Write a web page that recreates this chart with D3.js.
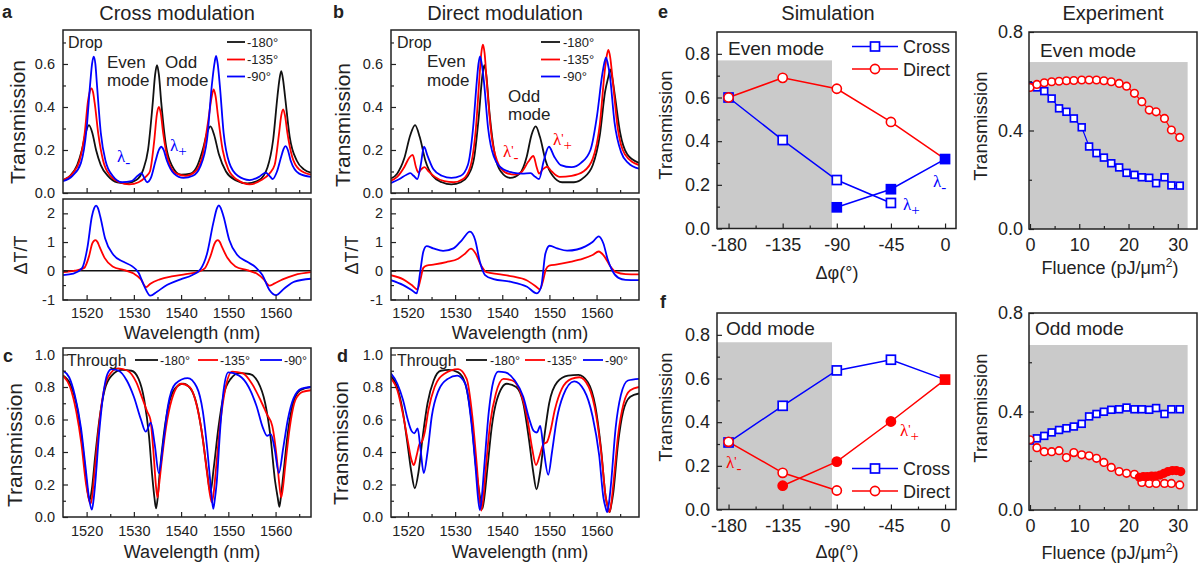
<!DOCTYPE html>
<html>
<head>
<meta charset="utf-8">
<script src="https://cdn.jsdelivr.net/npm/d3@7"></script>
<style>
  body { margin: 0; background: #fff; }
  svg { font-family: "Liberation Sans", Arial, sans-serif; }
</style>
</head>
<body>
<div id="fig"></div>
<script>
// ---------- spectra: [wavelength nm, value] ----------
// a: drop port, cross modulation
const dropCross180 = [[1515,0.06],[1516.5,0.08],[1518,0.13],[1519,0.2],[1519.8,0.28],[1520.5,0.316],[1521.2,0.28],[1522,0.2],[1523,0.13],[1524.5,0.08],[1526.5,0.05],[1528.5,0.045],[1530.5,0.06],[1532,0.11],[1533,0.2],[1534,0.42],[1534.5,0.55],[1534.9,0.595],[1535.3,0.55],[1535.8,0.42],[1536.8,0.22],[1538,0.13],[1540,0.085],[1542,0.09],[1543.5,0.13],[1544.7,0.21],[1545.5,0.28],[1546.2,0.31],[1547,0.27],[1548,0.18],[1549.5,0.1],[1551.5,0.06],[1554,0.045],[1556.5,0.06],[1558.3,0.12],[1559.5,0.25],[1560.4,0.45],[1560.8,0.525],[1561.2,0.567],[1561.6,0.525],[1562,0.45],[1563,0.26],[1564.5,0.15],[1566,0.11],[1567.5,0.095]];
const dropCross135 = [[1515,0.06],[1517,0.09],[1518.5,0.15],[1519.6,0.28],[1520.3,0.43],[1520.65,0.47],[1521,0.487],[1521.35,0.47],[1521.7,0.42],[1522.5,0.27],[1523.5,0.15],[1525,0.08],[1527,0.05],[1529,0.04],[1531,0.05],[1532.5,0.075],[1533.4,0.1],[1534.3,0.24],[1534.9,0.37],[1535.3,0.4],[1535.7,0.37],[1536.2,0.28],[1537.3,0.15],[1539,0.09],[1541,0.08],[1543,0.1],[1544.5,0.17],[1545.7,0.33],[1546.5,0.45],[1546.9,0.482],[1547.3,0.45],[1547.8,0.36],[1548.8,0.2],[1550,0.11],[1552,0.06],[1554.5,0.04],[1557,0.06],[1558.7,0.09],[1559.8,0.13],[1560.7,0.27],[1561.2,0.36],[1561.6,0.389],[1562,0.36],[1562.5,0.28],[1563.5,0.17],[1565,0.11],[1567.5,0.085]];
const dropCross90 = [[1515,0.055],[1517,0.08],[1518.8,0.14],[1520,0.3],[1520.8,0.52],[1521.15,0.6],[1521.5,0.634],[1521.85,0.6],[1522.2,0.5],[1523,0.28],[1524,0.15],[1525.5,0.08],[1527.5,0.05],[1529.5,0.055],[1530.8,0.08],[1531.6,0.092],[1532.2,0.07],[1532.8,0.05],[1533.6,0.07],[1534.6,0.15],[1535.3,0.2],[1535.8,0.215],[1536.3,0.2],[1537,0.15],[1538.5,0.09],[1540.5,0.07],[1542.5,0.08],[1544,0.12],[1545.5,0.25],[1546.5,0.5],[1547.05,0.6],[1547.4,0.637],[1547.75,0.6],[1548.2,0.5],[1549,0.28],[1550.2,0.14],[1552,0.08],[1554.5,0.06],[1556.5,0.075],[1557.9,0.095],[1558.7,0.08],[1559.4,0.065],[1560.3,0.1],[1561.2,0.17],[1561.7,0.205],[1562.1,0.218],[1562.6,0.2],[1563.2,0.15],[1565,0.09],[1567.5,0.075]];
const dtCross135 = [[1515,-0.05],[1517.5,0],[1519.5,0.1],[1520.5,0.5],[1521.2,0.95],[1521.5,1.03],[1521.9,1.07],[1522.3,1.0],[1522.7,0.85],[1523.8,0.45],[1525.5,0.15],[1528,0.02],[1530,-0.1],[1531.5,-0.3],[1532.6,-0.57],[1533.5,-0.45],[1535.5,-0.3],[1538,-0.2],[1541,-0.12],[1543.5,-0.04],[1545,0.08],[1546.2,0.5],[1547.1,0.95],[1547.4,1.03],[1547.8,1.07],[1548.2,1.0],[1548.6,0.85],[1549.8,0.45],[1551.5,0.15],[1554,0.02],[1556,-0.1],[1557.5,-0.3],[1558.7,-0.52],[1559.7,-0.45],[1561.5,-0.3],[1564,-0.15],[1567.5,-0.05]];
const dtCross90 = [[1515,-0.15],[1517.2,-0.1],[1519,0.08],[1520.2,0.84],[1521.1,1.88],[1521.6,2.18],[1522,2.27],[1522.4,2.18],[1522.9,1.88],[1523.9,1.13],[1525.7,0.55],[1527.8,0.31],[1529.6,0.16],[1531,-0.07],[1532.1,-0.5],[1533.5,-0.87],[1534.9,-0.73],[1537,-0.5],[1539.9,-0.3],[1542.4,-0.15],[1544.1,0.05],[1545.5,0.6],[1546.8,1.65],[1547.6,2.18],[1548,2.28],[1548.4,2.18],[1549,1.88],[1550.2,1.07],[1551.9,0.55],[1554,0.31],[1555.8,0.12],[1557.2,-0.15],[1558.7,-0.67],[1560.1,-0.85],[1561.9,-0.61],[1564,-0.38],[1567.5,-0.28]];

// b: drop port, direct modulation
const dropDirect180 = [[1516.2,0.065],[1517.7,0.09],[1519.2,0.16],[1520.5,0.27],[1521.5,0.316],[1522.5,0.26],[1523.7,0.15],[1525.2,0.08],[1527.2,0.05],[1529.2,0.04],[1531.2,0.05],[1532.7,0.08],[1534,0.16],[1535,0.35],[1535.8,0.55],[1536.2,0.595],[1536.6,0.55],[1537.3,0.37],[1538.4,0.18],[1539.7,0.1],[1541.7,0.07],[1543.7,0.09],[1545.2,0.17],[1546.2,0.27],[1547.1,0.31],[1548,0.26],[1549.2,0.15],[1550.7,0.08],[1552.7,0.05],[1555.2,0.05],[1557.2,0.07],[1559.2,0.13],[1560.7,0.27],[1561.8,0.47],[1562.5,0.54],[1562.9,0.575],[1563.3,0.54],[1563.9,0.45],[1565,0.28],[1566.5,0.18],[1569,0.14]];
const dropDirect135 = [[1516.2,0.055],[1517.7,0.075],[1519.2,0.12],[1520.3,0.165],[1521,0.177],[1521.7,0.12],[1522.2,0.095],[1522.8,0.11],[1523.5,0.12],[1524.4,0.1],[1525.7,0.075],[1527.7,0.055],[1529.7,0.05],[1531.7,0.065],[1533.2,0.12],[1534.4,0.3],[1535.2,0.55],[1535.55,0.65],[1535.9,0.69],[1536.25,0.65],[1536.7,0.52],[1537.7,0.27],[1538.9,0.15],[1540.7,0.095],[1542.7,0.085],[1544.2,0.1],[1545.5,0.145],[1546.6,0.172],[1547.3,0.12],[1547.8,0.09],[1548.6,0.11],[1549.5,0.122],[1550.5,0.1],[1552.2,0.075],[1554.7,0.08],[1557.2,0.1],[1559.2,0.16],[1560.7,0.32],[1561.7,0.56],[1562.1,0.63],[1562.5,0.665],[1562.9,0.63],[1563.4,0.53],[1564.5,0.3],[1566,0.18],[1569,0.13]];
const dropDirect90 = [[1516.2,0.045],[1518.2,0.065],[1519.7,0.085],[1520.5,0.092],[1521.2,0.08],[1522,0.065],[1522.7,0.13],[1523.4,0.215],[1524.2,0.17],[1525.4,0.11],[1527.2,0.08],[1529.2,0.07],[1531.2,0.08],[1532.7,0.13],[1533.8,0.3],[1534.6,0.52],[1534.95,0.6],[1535.3,0.635],[1535.65,0.6],[1536.1,0.52],[1537,0.3],[1538.2,0.17],[1540.2,0.11],[1542.2,0.095],[1544.2,0.09],[1546,0.092],[1547,0.075],[1547.8,0.065],[1548.8,0.15],[1549.9,0.215],[1551,0.17],[1552.4,0.13],[1554.7,0.12],[1556.7,0.14],[1558.7,0.2],[1560.1,0.36],[1561.2,0.55],[1561.6,0.6],[1562,0.63],[1562.4,0.6],[1562.8,0.55],[1563.8,0.33],[1565.2,0.19],[1566.7,0.14],[1569,0.113]];
const dtDirect135 = [[1516.2,-0.15],[1519,-0.3],[1520.8,-0.5],[1522,-0.65],[1522.65,-0.3],[1523.25,0.1],[1523.95,0.18],[1525.65,0.22],[1528.15,0.3],[1530.65,0.42],[1532.15,0.6],[1533.35,0.77],[1534.35,0.6],[1535.45,0.2],[1536.65,-0.05],[1539.15,-0.12],[1542.15,-0.2],[1545.15,-0.33],[1547.15,-0.55],[1547.95,-0.65],[1548.65,-0.35],[1549.25,0.05],[1549.95,0.18],[1551.65,0.22],[1554.15,0.3],[1557.15,0.42],[1559.15,0.55],[1560.45,0.67],[1561.65,0.5],[1562.95,0.15],[1564.15,-0.05],[1566.15,-0.12],[1569,-0.13]];
const dtDirect90 = [[1516.2,-0.32],[1519,-0.5],[1520.75,-0.67],[1521.85,-0.79],[1522.55,-0.09],[1523.25,0.66],[1523.95,0.86],[1525.35,0.78],[1527.45,0.69],[1529.65,0.78],[1531.45,1.07],[1533.15,1.36],[1534.25,1.07],[1535.25,0.31],[1536.35,-0.15],[1538.15,-0.29],[1541.65,-0.38],[1545.25,-0.56],[1547.35,-0.79],[1548.25,-0.56],[1549.15,0.6],[1550.05,0.87],[1551.65,0.78],[1553.75,0.7],[1555.85,0.74],[1557.65,0.85],[1559.15,1.0],[1560.45,1.2],[1561.45,0.95],[1562.35,0.4],[1563.35,0],[1564.65,-0.25],[1566.15,-0.32],[1569,-0.33]];

// c: through port, cross modulation
const thruCross180 = [[1515,0.87],[1516.5,0.82],[1517.8,0.7],[1518.8,0.52],[1519.6,0.32],[1520.2,0.16],[1520.6,0.1],[1521.1,0.17],[1521.8,0.37],[1522.7,0.6],[1523.8,0.78],[1525.3,0.87],[1527.5,0.905],[1529.5,0.9],[1531,0.85],[1532.2,0.72],[1533.2,0.5],[1533.9,0.25],[1534.35,0.12],[1534.7,0.053],[1535.05,0.12],[1535.4,0.25],[1536.3,0.5],[1537.3,0.68],[1538.7,0.79],[1540.4,0.82],[1542,0.79],[1543.4,0.68],[1544.6,0.48],[1545.5,0.28],[1546.2,0.15],[1546.9,0.3],[1547.9,0.55],[1549,0.75],[1550.5,0.85],[1552.3,0.885],[1554.5,0.88],[1556.3,0.83],[1557.8,0.7],[1558.9,0.5],[1559.9,0.22],[1560.45,0.12],[1560.8,0.063],[1561.15,0.13],[1561.6,0.25],[1562.6,0.52],[1563.7,0.7],[1565.2,0.78],[1567.5,0.8]];
const thruCross135 = [[1515,0.87],[1516.5,0.8],[1517.8,0.65],[1518.9,0.45],[1519.8,0.22],[1520.4,0.12],[1520.8,0.08],[1521.2,0.13],[1521.6,0.25],[1522.4,0.5],[1523.3,0.72],[1524.5,0.86],[1526.7,0.915],[1528.7,0.9],[1530.5,0.83],[1531.8,0.73],[1532.8,0.65],[1533.5,0.6],[1534.2,0.38],[1534.65,0.2],[1535,0.12],[1535.35,0.2],[1535.8,0.32],[1536.8,0.55],[1538,0.72],[1540,0.82],[1541.8,0.8],[1543.2,0.7],[1544.4,0.52],[1545.5,0.27],[1546.1,0.14],[1546.5,0.09],[1546.9,0.15],[1547.4,0.3],[1548.3,0.58],[1549.3,0.78],[1550.8,0.895],[1553,0.885],[1555,0.82],[1556.8,0.72],[1558.2,0.63],[1559.3,0.56],[1560.3,0.35],[1560.8,0.2],[1561.2,0.12],[1561.6,0.19],[1562,0.3],[1563,0.55],[1564.2,0.72],[1565.7,0.77],[1567.5,0.78]];
const thruCross90 = [[1515,0.9],[1516.3,0.86],[1517.5,0.75],[1518.8,0.55],[1519.8,0.3],[1520.5,0.12],[1521.1,0.045],[1521.45,0.1],[1521.8,0.2],[1522.6,0.5],[1523.5,0.75],[1524.4,0.88],[1525.3,0.91],[1526.8,0.9],[1528.5,0.84],[1530,0.74],[1531.5,0.6],[1532.5,0.525],[1533.6,0.58],[1534.4,0.45],[1535.3,0.27],[1536.2,0.45],[1537.2,0.68],[1538.8,0.82],[1541.4,0.855],[1543.3,0.8],[1544.6,0.65],[1545.6,0.4],[1546.3,0.18],[1546.8,0.05],[1547.1,0.1],[1547.5,0.2],[1548.3,0.55],[1549,0.78],[1550,0.89],[1552.3,0.87],[1554.3,0.8],[1556,0.68],[1557.3,0.55],[1558.2,0.5],[1559,0.51],[1559.8,0.42],[1560.7,0.27],[1561.6,0.42],[1562.6,0.6],[1563.8,0.73],[1565.5,0.79],[1567.5,0.8]];

// d: through port, direct modulation
const thruDirect180 = [[1516.2,0.87],[1517.7,0.8],[1518.9,0.65],[1519.9,0.45],[1520.7,0.28],[1521.45,0.177],[1522.25,0.28],[1523.15,0.5],[1524.15,0.7],[1525.45,0.84],[1526.95,0.9],[1528.65,0.905],[1530.65,0.89],[1532.15,0.82],[1533.45,0.6],[1534.45,0.3],[1535.3,0.12],[1535.75,0.05],[1536.2,0.12],[1536.85,0.3],[1537.75,0.55],[1538.85,0.72],[1540.95,0.82],[1542.95,0.8],[1544.45,0.7],[1545.65,0.48],[1546.55,0.28],[1547.25,0.17],[1548.05,0.28],[1548.95,0.5],[1549.95,0.7],[1551.65,0.83],[1553.95,0.87],[1556.15,0.875],[1558.15,0.83],[1559.75,0.68],[1560.95,0.42],[1561.95,0.12],[1562.4,0.06],[1562.75,0.03],[1563.1,0.07],[1563.55,0.15],[1564.55,0.45],[1565.65,0.65],[1567.15,0.74],[1569,0.76]];
const thruDirect135 = [[1516.2,0.86],[1517.75,0.78],[1518.95,0.63],[1519.95,0.47],[1520.75,0.35],[1521.25,0.32],[1521.85,0.38],[1522.45,0.45],[1522.95,0.463],[1523.55,0.52],[1524.35,0.66],[1525.65,0.8],[1527.65,0.88],[1530.65,0.91],[1532.45,0.85],[1533.65,0.62],[1534.65,0.3],[1535.15,0.12],[1535.55,0.04],[1535.95,0.11],[1536.45,0.28],[1537.45,0.58],[1538.65,0.76],[1540.25,0.85],[1542.15,0.84],[1543.95,0.76],[1545.35,0.6],[1546.35,0.42],[1547.15,0.32],[1547.95,0.38],[1548.75,0.45],[1549.45,0.46],[1550.15,0.52],[1551.15,0.66],[1552.65,0.79],[1554.65,0.85],[1556.35,0.86],[1558.35,0.8],[1559.95,0.62],[1561.05,0.38],[1561.95,0.12],[1562.4,0.06],[1562.75,0.03],[1563.1,0.08],[1563.55,0.2],[1564.55,0.5],[1565.75,0.7],[1567.15,0.78],[1569,0.8]];
const thruDirect90 = [[1516.2,0.89],[1517.75,0.82],[1518.95,0.72],[1519.95,0.6],[1520.75,0.53],[1521.35,0.515],[1522.05,0.545],[1522.65,0.42],[1523.35,0.27],[1524.15,0.4],[1525.05,0.62],[1526.35,0.77],[1528.45,0.85],[1530.45,0.87],[1532.15,0.82],[1533.45,0.58],[1534.35,0.3],[1534.85,0.12],[1535.25,0.043],[1535.65,0.12],[1536.15,0.3],[1537.15,0.65],[1538.15,0.84],[1539.15,0.895],[1540.65,0.89],[1542.65,0.84],[1544.45,0.74],[1545.75,0.6],[1546.65,0.53],[1547.35,0.52],[1548.05,0.56],[1548.75,0.42],[1549.75,0.26],[1550.55,0.4],[1551.55,0.6],[1552.95,0.75],[1555.25,0.835],[1557.35,0.78],[1559.15,0.62],[1560.55,0.38],[1561.45,0.12],[1561.9,0.06],[1562.25,0.03],[1562.6,0.08],[1563.05,0.2],[1564.05,0.55],[1565.15,0.75],[1566.65,0.84],[1569,0.85]];

// e, f simulation: phase difference (deg) vs transmission
const simPhase = [-180, -135, -90, -45, 0];
const simEvenCrossPlus = [0.6, 0.405, 0.222, 0.117];        // open squares, -180..-45
const simEvenCrossMinus = [0.097, 0.18, 0.318];             // filled squares, -90..0
const simEvenDirect = [0.6, 0.69, 0.64, 0.488, 0.318];
const simOddCross = [0.307, 0.475, 0.637, 0.686, 0.595];
const simOddDirectMinus = [0.31, 0.168, 0.087];             // open circles, -180..-90
const simOddDirectPlus = [0.109, 0.219, 0.403, 0.595];      // filled, -135..0

// e, f experiment: fluence (pJ/um^2) vs transmission
const fluence = [0, 1.4, 2.9, 4.4, 5.9, 7.4, 8.9, 10.5, 12, 13.5, 15, 16.5, 18.1, 19.6, 21.2, 22.7, 24.2, 25.6, 27.3, 28.7, 30.4];
const expEvenDirect = [0.575, 0.587, 0.594, 0.598, 0.6, 0.602, 0.603, 0.605, 0.605, 0.605, 0.602, 0.598, 0.591, 0.58, 0.551, 0.517, 0.483, 0.476, 0.449, 0.402, 0.372];
const expEvenCross = [0.58, 0.575, 0.56, 0.53, 0.49, 0.476, 0.449, 0.413, 0.335, 0.308, 0.29, 0.267, 0.25, 0.228, 0.22, 0.21, 0.208, 0.186, 0.21, 0.177, 0.176];
const expOddCross = [0.282, 0.291, 0.301, 0.315, 0.325, 0.332, 0.339, 0.35, 0.38, 0.39, 0.399, 0.407, 0.409, 0.416, 0.409, 0.409, 0.407, 0.414, 0.39, 0.409, 0.409];
const expOddDirect = [0.285, 0.253, 0.237, 0.237, 0.241, 0.213, 0.233, 0.224, 0.22, 0.21, 0.193, 0.173, 0.156, 0.149, 0.145, 0.112, 0.108, 0.108, 0.108, 0.108, 0.102];
const fluenceOddFilled = [22.2, 23, 23.8, 24.7, 25.5, 26.4, 27.2, 28, 28.9, 29.7, 30.6];
const expOddDirectFilled = [0.133, 0.136, 0.136, 0.138, 0.138, 0.142, 0.149, 0.156, 0.16, 0.16, 0.156];

// ---------- drawing ----------
const INK = "#222", BLACK = "#111", RED = "#ff0000", BLUE = "#0000ff", GREY = "#cacaca";

const svg = d3.select("#fig").append("svg").attr("width", 1199).attr("height", 567);
const defs = svg.append("defs");
let clipCount = 0;

function styleAxis(sel, fs) {
    sel.attr("font-family", null).attr("font-size", null);
    sel.select(".domain").remove();
    sel.selectAll("line").attr("stroke", INK).attr("stroke-width", 1.2);
    sel.selectAll("text").attr("fill", INK).attr("font-size", fs);
}

// one framed plot box with inward ticks; returns scales and a clipped group for the marks
function panel(box, xDom, yDom, o) {
    const x = d3.scaleLinear().domain(xDom).range([box.x, box.x + box.w]);
    const y = d3.scaleLinear().domain(yDom).range([box.y + box.h, box.y]);
    const id = "clip" + (clipCount++);
    defs.append("clipPath").attr("id", id).append("rect")
        .attr("x", box.x).attr("y", box.y).attr("width", box.w).attr("height", box.h);

    const g = svg.append("g");
    const inner = g.append("g").attr("clip-path", `url(#${id})`);
    const fs = o.fs;

    const xb = `translate(0,${box.y + box.h})`;
    g.append("g").attr("transform", xb)
        .call(d3.axisBottom(x).tickValues(o.xTicks).tickSize(-5).tickPadding(o.xPad)
            .tickFormat(o.xLabels ? o.xFmt : ""))
        .call(s => styleAxis(s, fs));
    g.append("g").attr("transform", xb)
        .call(d3.axisBottom(x).tickValues(o.xMinor).tickSize(-3).tickFormat(""))
        .call(s => styleAxis(s, fs));

    const yb = `translate(${box.x},0)`;
    g.append("g").attr("transform", yb)
        .call(d3.axisLeft(y).tickValues(o.yTicks).tickSize(-5).tickPadding(o.yPad).tickFormat(o.yFmt))
        .call(s => styleAxis(s, fs));
    g.append("g").attr("transform", yb)
        .call(d3.axisLeft(y).tickValues(o.yMinor).tickSize(-3).tickFormat(""))
        .call(s => styleAxis(s, fs));

    g.append("rect").attr("x", box.x).attr("y", box.y).attr("width", box.w).attr("height", box.h)
        .attr("fill", "none").attr("stroke", INK).attr("stroke-width", 1.5);

    return { x, y, inner };
}

function spectrum(p, pts, color) {
    p.inner.append("path").datum(pts)
        .attr("fill", "none").attr("stroke", color).attr("stroke-width", 1.8)
        .attr("d", d3.line().x(d => p.x(d[0])).y(d => p.y(d[1])).curve(d3.curveMonotoneX));
}

function text(str, x, y, size, opt) {
    opt = opt || {};
    return svg.append("text").attr("x", x).attr("y", y).attr("font-size", size)
        .attr("fill", opt.color || INK).attr("text-anchor", opt.anchor || "start")
        .attr("font-weight", opt.bold ? "bold" : null).text(str);
}

function vtext(str, x, y, size) {
    svg.append("text").attr("transform", `translate(${x},${y}) rotate(-90)`)
        .attr("text-anchor", "middle").attr("font-size", size).attr("fill", INK).text(str);
}

// λ with subscript sign and optional prime
function lambda(x, y, color, prime, sign) {
    const t = svg.append("text").attr("x", x).attr("y", y).attr("fill", color)
        .attr("font-size", 17).attr("font-family", "'Liberation Serif', serif");
    t.append("tspan").text("λ");
    if (prime) t.append("tspan").text("'").attr("font-size", 13).attr("dy", -3);
    t.append("tspan").text(sign).attr("font-size", 15).attr("dy", prime ? 8 : 5);
}

function legendLine(x1, x2, y, color, label, tx, size) {
    svg.append("line").attr("x1", x1).attr("x2", x2).attr("y1", y).attr("y2", y)
        .attr("stroke", color).attr("stroke-width", 1.8);
    text(label, tx, y + size * 0.36, size);
}

const wlTicks = [1520, 1530, 1540, 1550, 1560];
const wlMinor = [1525, 1535, 1545, 1555, 1565];
const f1 = d3.format(".1f");
const specOpt = { fs: 14.5, xTicks: wlTicks, xMinor: wlMinor, xFmt: d => String(d), yPad: 8 };

const dropOpt = Object.assign({}, specOpt, { xLabels: false, xPad: 8, yTicks: [0, 0.2, 0.4, 0.6], yMinor: [0.1, 0.3, 0.5, 0.7], yFmt: f1 });
const dtOpt = Object.assign({}, specOpt, { xLabels: true, xPad: 8, yTicks: [-1, 0, 1, 2], yMinor: [-0.5, 0.5, 1.5], yFmt: d => String(d) });
const thruOpt = Object.assign({}, specOpt, { xLabels: true, xPad: 9, yTicks: [0, 0.2, 0.4, 0.6, 0.8, 1.0], yMinor: [0.1, 0.3, 0.5, 0.7, 0.9], yFmt: f1 });

const domA = [1515, 1567.5], domB = [1516.4, 1569];

// ---- panel a ----
const pA1 = panel({ x: 63, y: 30, w: 248, h: 163 }, domA, [0, 0.758], dropOpt);
spectrum(pA1, dropCross180, BLACK); spectrum(pA1, dropCross135, RED); spectrum(pA1, dropCross90, BLUE);
const pA2 = panel({ x: 63, y: 199, w: 248, h: 101 }, domA, [-1.02, 2.5], dtOpt);
pA2.inner.append("line").attr("x1", 63).attr("x2", 311).attr("y1", pA2.y(0)).attr("y2", pA2.y(0))
    .attr("stroke", BLACK).attr("stroke-width", 1.6);
spectrum(pA2, dtCross135, RED); spectrum(pA2, dtCross90, BLUE);

// ---- panel b ----
const pB1 = panel({ x: 391, y: 30, w: 248, h: 163 }, domB, [0, 0.758], dropOpt);
spectrum(pB1, dropDirect180, BLACK); spectrum(pB1, dropDirect135, RED); spectrum(pB1, dropDirect90, BLUE);
const pB2 = panel({ x: 391, y: 199, w: 248, h: 101 }, domB, [-1.02, 2.5], dtOpt);
pB2.inner.append("line").attr("x1", 391).attr("x2", 639).attr("y1", pB2.y(0)).attr("y2", pB2.y(0))
    .attr("stroke", BLACK).attr("stroke-width", 1.6);
spectrum(pB2, dtDirect135, RED); spectrum(pB2, dtDirect90, BLUE);

// ---- panels c, d ----
const pC = panel({ x: 63, y: 348, w: 248, h: 169 }, domA, [0, 1.04], thruOpt);
spectrum(pC, thruCross180, BLACK); spectrum(pC, thruCross135, RED); spectrum(pC, thruCross90, BLUE);
const pD = panel({ x: 391, y: 348, w: 248, h: 169 }, domB, [0, 1.04], thruOpt);
spectrum(pD, thruDirect180, BLACK); spectrum(pD, thruDirect135, RED); spectrum(pD, thruDirect90, BLUE);

// ---- panels e, f : simulation and experiment ----
const simOpt = { fs: 18, xTicks: [-180, -135, -90, -45, 0], xMinor: [-157.5, -112.5, -67.5, -22.5], xLabels: true, xPad: 10, xFmt: d => String(d),
    yTicks: [0, 0.2, 0.4, 0.6, 0.8], yMinor: [0.1, 0.3, 0.5, 0.7], yPad: 7, yFmt: f1 };
const expOpt = { fs: 18, xTicks: [0, 10, 20, 30], xMinor: [5, 15, 25], xLabels: true, xPad: 9, xFmt: d => String(d),
    yTicks: [0, 0.4, 0.8], yMinor: [0.2, 0.6], yPad: 6, yFmt: f1 };

const pE1 = panel({ x: 717, y: 32, w: 239, h: 196.5 }, [-189.6, 9.1], [0, 0.9], simOpt);
const pE2 = panel({ x: 1029, y: 32, w: 168, h: 197 }, [-0.2, 33.9], [0, 0.8], expOpt);
const pF1 = panel({ x: 717, y: 313, w: 239, h: 196.5 }, [-189.6, 9.1], [0, 0.9], simOpt);
const pF2 = panel({ x: 1029, y: 313, w: 168, h: 197 }, [-0.2, 33.9], [0, 0.8], expOpt);

function shade(p, x0, x1, top) {
    p.inner.insert("rect", ":first-child")
        .attr("x", p.x(x0)).attr("width", p.x(x1) - p.x(x0))
        .attr("y", p.y(top)).attr("height", p.y(0) - p.y(top) + 2).attr("fill", GREY);
}
shade(pE1, -195, -94, 0.77); shade(pF1, -195, -94, 0.766);
shade(pE2, -1, 32, 0.678); shade(pF2, -1, 32, 0.67);

function series(p, xs, ys, color, w) {
    p.inner.append("path").datum(xs.map((v, i) => [v, ys[i]]))
        .attr("fill", "none").attr("stroke", color).attr("stroke-width", w)
        .attr("d", d3.line().x(d => p.x(d[0])).y(d => p.y(d[1])));
}
function squares(p, xs, ys, color, size, filled) {
    p.inner.append("g").selectAll("rect").data(xs.map((v, i) => [v, ys[i]])).enter().append("rect")
        .attr("x", d => p.x(d[0]) - size / 2).attr("y", d => p.y(d[1]) - size / 2)
        .attr("width", size).attr("height", size)
        .attr("fill", filled ? color : "#fff").attr("stroke", color).attr("stroke-width", 1.7);
}
function circles(p, xs, ys, color, r, filled) {
    p.inner.append("g").selectAll("circle").data(xs.map((v, i) => [v, ys[i]])).enter().append("circle")
        .attr("cx", d => p.x(d[0])).attr("cy", d => p.y(d[1])).attr("r", r)
        .attr("fill", filled ? color : "#fff").attr("stroke", color).attr("stroke-width", 1.6);
}

// e simulation
series(pE1, simPhase.slice(0, 4), simEvenCrossPlus, BLUE, 1.5);
series(pE1, simPhase.slice(2), simEvenCrossMinus, BLUE, 1.5);
series(pE1, simPhase, simEvenDirect, RED, 1.5);
squares(pE1, simPhase.slice(0, 4), simEvenCrossPlus, BLUE, 9, false);
squares(pE1, simPhase.slice(2), simEvenCrossMinus, BLUE, 9, true);
circles(pE1, simPhase.slice(0, 4), simEvenDirect.slice(0, 4), RED, 4.6, false);

// f simulation
series(pF1, simPhase, simOddCross, BLUE, 1.5);
series(pF1, simPhase.slice(0, 3), simOddDirectMinus, RED, 1.5);
series(pF1, simPhase.slice(1), simOddDirectPlus, RED, 1.5);
squares(pF1, simPhase.slice(0, 4), simOddCross.slice(0, 4), BLUE, 9, false);
circles(pF1, simPhase.slice(1, 4), simOddDirectPlus.slice(0, 3), RED, 4.6, true);
squares(pF1, simPhase.slice(4), simOddDirectPlus.slice(3), RED, 9, true);
circles(pF1, simPhase.slice(0, 3), simOddDirectMinus, RED, 4.6, false);

// e experiment
series(pE2, fluence, expEvenCross, BLUE, 1.2);
series(pE2, fluence, expEvenDirect, RED, 1.2);
squares(pE2, fluence, expEvenCross, BLUE, 6.8, false);
circles(pE2, fluence, expEvenDirect, RED, 3.8, false);

// f experiment
series(pF2, fluence, expOddCross, BLUE, 1.2);
series(pF2, fluence, expOddDirect, RED, 1.2);
series(pF2, fluenceOddFilled, expOddDirectFilled, RED, 1.2);
squares(pF2, fluence, expOddCross, BLUE, 6.8, false);
circles(pF2, fluence, expOddDirect, RED, 3.8, false);
circles(pF2, fluenceOddFilled, expOddDirectFilled, RED, 3.8, true);

// ---------- text ----------
text("a", 2, 18, 18, { bold: true }); text("b", 333, 18, 18, { bold: true });
text("c", 3, 362, 18, { bold: true }); text("d", 337, 362, 18, { bold: true });
text("e", 658, 18, 18, { bold: true }); text("f", 660, 308, 18, { bold: true });

text("Cross modulation", 177, 20, 20, { anchor: "middle" });
text("Direct modulation", 505, 20, 20, { anchor: "middle" });
text("Simulation", 828, 20, 20, { anchor: "middle" });
text("Experiment", 1113, 20, 20, { anchor: "middle" });

vtext("Transmission", 25, 122, 21); vtext("Transmission", 350, 125, 21);
vtext("ΔT/T", 27, 255, 18); vtext("ΔT/T", 358, 255, 18);
vtext("Transmission", 22, 445, 21); vtext("Transmission", 348, 443, 21);
text("Wavelength (nm)", 192, 339, 18, { anchor: "middle" });
text("Wavelength (nm)", 520, 339, 18, { anchor: "middle" });
text("Wavelength (nm)", 192, 558, 18, { anchor: "middle" });
text("Wavelength (nm)", 520, 558, 18, { anchor: "middle" });

// drop legends and labels
[[227, 245, 247, 42], [541, 560, 563, 42]].forEach(([x1, x2, tx, y0]) => {
    legendLine(x1, x2, y0, BLACK, "-180°", tx, 13);
    legendLine(x1, x2, y0 + 17.5, RED, "-135°", tx, 13);
    legendLine(x1, x2, y0 + 34.5, BLUE, "-90°", tx, 13);
});
text("Drop", 68, 47.5, 16); text("Drop", 397, 47.5, 16);
text("Even", 107, 68, 17); text("mode", 107, 86, 17);
text("Odd", 165, 68, 17); text("mode", 166, 86, 17);
text("Even", 427, 67, 17); text("mode", 427, 86, 17);
text("Odd", 508, 101.5, 17); text("mode", 508, 120, 17);
lambda(117, 162, BLUE, false, "-"); lambda(170, 151, BLUE, false, "+");
lambda(503, 157, RED, true, "-"); lambda(553, 145, RED, true, "+");

// through legends
text("Through", 67, 366, 16); text("Through", 397, 366, 16);
legendLine(135, 158, 360, BLACK, "-180°", 160, 12.5);
legendLine(198, 218, 360, RED, "-135°", 220, 12.5);
legendLine(260, 282, 360, BLUE, "-90°", 284, 12.5);
legendLine(466, 487, 360, BLACK, "-180°", 490, 12.5);
legendLine(525, 545, 360, RED, "-135°", 547, 12.5);
legendLine(583, 603, 360, BLUE, "-90°", 605, 12.5);

// e / f labels
text("Even mode", 728, 55, 19); text("Odd mode", 726, 335, 19);
text("Even mode", 1040, 57, 19); text("Odd mode", 1035, 335, 19);
vtext("Transmission", 672, 125, 18.5); vtext("Transmission", 672, 407, 18.5);
vtext("Transmission", 987, 126, 18.5); vtext("Transmission", 987, 408, 18.5);
text("Δφ(°)", 837, 279, 18, { anchor: "middle" });
text("Δφ(°)", 837, 558, 18, { anchor: "middle" });
[274, 559].forEach(yb => {
    const t = text("Fluence (pJ/μm", 1110, yb, 18, { anchor: "middle" });
    t.append("tspan").text("2").attr("font-size", 12).attr("dy", -7);
    t.append("tspan").text(")").attr("dy", 7);
});

// sim legends: line with marker
function simLegend(y, color, kind, label) {
    svg.append("line").attr("x1", 852).attr("x2", 898).attr("y1", y).attr("y2", y)
        .attr("stroke", color).attr("stroke-width", 1.6);
    if (kind === "sq") {
        svg.append("rect").attr("x", 875 - 4.5).attr("y", y - 4.5).attr("width", 9).attr("height", 9)
            .attr("fill", "#fff").attr("stroke", color).attr("stroke-width", 1.7);
    } else {
        svg.append("circle").attr("cx", 875).attr("cy", y).attr("r", 4.6)
            .attr("fill", "#fff").attr("stroke", color).attr("stroke-width", 1.6);
    }
    text(label, 903, y + 6.5, 18);
}
simLegend(46.5, BLUE, "sq", "Cross"); simLegend(69, RED, "ci", "Direct");
simLegend(468.5, BLUE, "sq", "Cross"); simLegend(491, RED, "ci", "Direct");

lambda(933, 187, BLUE, false, "-"); lambda(903, 210, BLUE, false, "+");
lambda(726, 468, RED, true, "-"); lambda(900, 436, RED, true, "+");
</script>
</body>
</html>
